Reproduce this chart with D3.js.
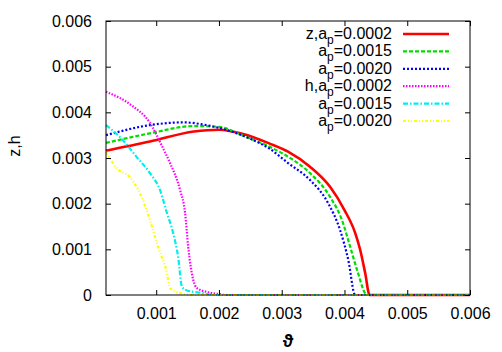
<!DOCTYPE html>
<html>
<head>
<meta charset="utf-8">
<script src="https://cdn.jsdelivr.net/npm/d3@7"></script>
<style>
  body { margin: 0; background: #fff; }
  svg text { font-family: "Liberation Sans", Arial, sans-serif; }
</style>
</head>
<body>
<div class="canva"></div>
<script>
// data: [theta, value]
const zA0002 = [[0.0002,0.00316],[0.0009,0.00336],[0.0016,0.00358],[0.002,0.00362],[0.0024,0.00352],[0.0028,0.00332],[0.0031,0.00314],[0.00345,0.00281],[0.00377,0.00237],[0.0040,0.00186],[0.00417,0.00136],[0.00425,0.00099],[0.00433,0.00048],[0.0044,0],[0.006,0]]
const zA0015 = [[0.0002,0.00333],[0.0009,0.00354],[0.0016,0.0037],[0.002,0.00368],[0.0024,0.00348],[0.0028,0.00325],[0.0031,0.00303],[0.00345,0.00267],[0.00377,0.00215],[0.00396,0.00164],[0.00409,0.00106],[0.0042,0.00055],[0.00436,0],[0.006,0]]
const zA0020 = [[0.0002,0.0035],[0.0009,0.00372],[0.00143,0.00378],[0.0018,0.00372],[0.0022,0.00358],[0.0025,0.00342],[0.0028,0.00321],[0.0031,0.00289],[0.00345,0.00252],[0.00374,0.00201],[0.00393,0.00142],[0.00406,0.00077],[0.00417,0],[0.006,0]]
const hA0002 = [[0.0002,0.00445],[0.0006,0.00416],[0.0009,0.00377],[0.0011,0.00324],[0.00122,0.00289],[0.00138,0.0023],[0.00146,0.0018],[0.00151,0.00105],[0.00159,0.00033],[0.00165,0.00015],[0.0018,0.00007],[0.002,0.00002],[0.0021,0],[0.006,0]]
const hA0015 = [[0.0002,0.00372],[0.00047,0.00339],[0.00069,0.00302],[0.0009,0.00267],[0.00106,0.0023],[0.00117,0.0018],[0.00127,0.00136],[0.00135,0.00083],[0.00141,0.00018],[0.00149,0.0001],[0.00175,0.00004],[0.0019,0],[0.006,0]]
const hA0020 = [[0.0002,0.00314],[0.00037,0.00278],[0.00058,0.00258],[0.00074,0.00223],[0.0009,0.00164],[0.00103,0.00105],[0.00117,0.00048],[0.00122,0.00015],[0.00138,0.00004],[0.0016,0],[0.006,0]]

const legendPrefix = ['z,a','a','a','h,a','a','a']
const legendValue = ['=0.0002','=0.0015','=0.0020','=0.0002','=0.0015','=0.0020']
const xTicks = [0.001,0.002,0.003,0.004,0.005,0.006]
const yTicks = [0,0.001,0.002,0.003,0.004,0.005,0.006]

const series = [zA0002, zA0015, zA0020, hA0002, hA0015, hA0020]
const colors = ['#ff0000','#00dd00','#0000ff','#ff00ff','#00eeee','#ffff00']
const dashes = [null,'4,2','2,2','1.5,1.5','5,2,1.5,2','3,2,1,2,1,2']

const W = 502, H = 352
const pLeft = 106, pRight = 470, pTop = 21, pBottom = 295

const svg = d3.select('.canva').append('svg')
    .attr('width', W)
    .attr('height', H)

const x = d3.scaleLinear().domain([0.0002, 0.006]).range([pLeft, pRight])
const y = d3.scaleLinear().domain([0, 0.006]).range([pBottom, pTop])

//curves
const line = d3.line().x(d => x(d[0])).y(d => y(d[1])).curve(d3.curveMonotoneX)
series.forEach((s, i) => {
  svg.append('path')
    .datum(s)
    .attr('d', line)
    .attr('fill', 'none')
    .attr('stroke', colors[i])
    .attr('stroke-width', i == 0 ? 2.6 : 2.2)
    .attr('stroke-dasharray', dashes[i])
})

//axes (gnuplot style ticks inward, mirrored)
const fmt = d => d == 0 ? '0' : d3.format('.3f')(d)
svg.append('g')
  .attr('transform', `translate(0,${pBottom})`)
  .call(d3.axisBottom(x).tickValues(xTicks).tickSizeInner(-5).tickSizeOuter(0).tickPadding(13).tickFormat(fmt))
svg.append('g')
  .attr('transform', `translate(0,${pTop})`)
  .call(d3.axisTop(x).tickValues(xTicks).tickSizeInner(-5).tickSizeOuter(0).tickFormat(''))
svg.append('g')
  .attr('transform', `translate(${pLeft},0)`)
  .call(d3.axisLeft(y).tickValues(yTicks).tickSizeInner(-5).tickSizeOuter(0).tickPadding(14).tickFormat(fmt))
svg.append('g')
  .attr('transform', `translate(${pRight},0)`)
  .call(d3.axisRight(y).tickValues(yTicks).tickSizeInner(-5).tickSizeOuter(0).tickFormat(''))

svg.selectAll('.tick text')
  .attr('font-size', 16)
  .attr('font-family', '"Liberation Sans", Arial, sans-serif')
  .attr('fill', '#000')
svg.selectAll('.domain').remove()

svg.append('rect')
  .attr('x', pLeft).attr('y', pTop)
  .attr('width', pRight - pLeft).attr('height', pBottom - pTop)
  .attr('fill', 'none').attr('stroke', '#000').attr('stroke-width', 1)

//axis labels
svg.append('text')
  .text('z,h')
  .attr('transform', 'translate(20,146) rotate(-90)')
  .attr('text-anchor', 'middle')
  .attr('font-size', 16)
svg.append('text')
  .text('ϑ')
  .attr('x', 288).attr('y', 347)
  .attr('text-anchor', 'middle')
  .attr('font-size', 18)
  .attr('font-weight', 'bold')

//legend
const legend = svg.append('g')
legendPrefix.forEach((p, i) => {
  const ly = 34 + i * 17.4
  const t = legend.append('text')
    .attr('x', 392).attr('y', ly + 5)
    .attr('text-anchor', 'end')
    .attr('font-size', 16)
  t.append('tspan').text(p)
  t.append('tspan').text('p').attr('font-size', 12).attr('dy', 5)
  t.append('tspan').text(legendValue[i]).attr('dy', -5)
  legend.append('line')
    .attr('x1', 403).attr('x2', 449)
    .attr('y1', ly).attr('y2', ly)
    .attr('stroke', colors[i])
    .attr('stroke-width', i == 0 ? 2.6 : 2.2)
    .attr('stroke-dasharray', dashes[i])
})
</script>
</body>
</html>
